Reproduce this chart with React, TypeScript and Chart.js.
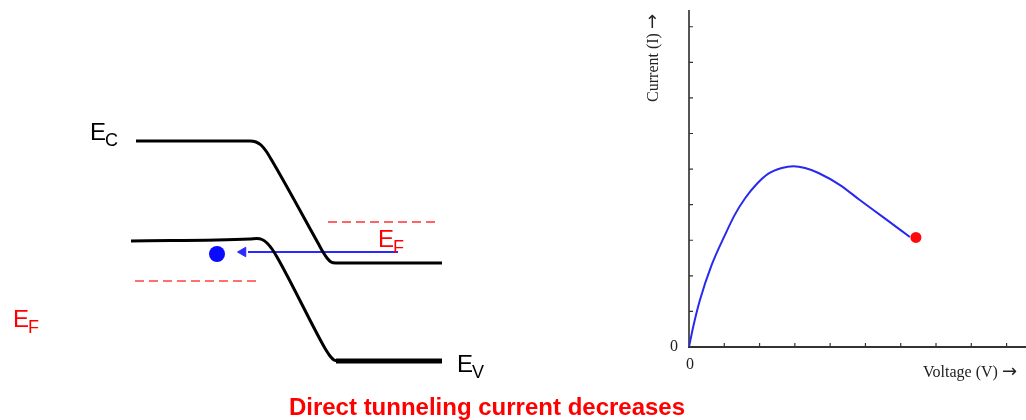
import React, { useEffect, useRef } from "react";
import { Chart, registerables } from "chart.js";
Chart.register(...registerables);

// ---------- Band diagram (position in nm, energy in eV) ----------
const ecX = [3.6, 15.0, 15.6, 16.1, 16.6, 17.1, 21.8, 22.3, 22.7, 23.1, 23.6, 34.2];
const ecY = [2.2, 2.2, 2.19, 2.16, 2.1, 2.02, 1.18, 1.09, 1.03, 0.99, 0.98, 0.98];
const evX = [3.1, 15.0, 15.7, 16.2, 16.7, 17.2, 17.7, 22.2, 22.6, 23.0, 23.4, 23.8];
const evY = [1.2, 1.22, 1.225, 1.215, 1.18, 1.12, 1.04, 0.18, 0.11, 0.05, 0.01, 0.0];
const evFlatX = [23.6, 34.2];
const evFlatY = [0.0, 0.0];
const efRightX = [22.8, 33.8];
const efRightY = [1.39, 1.39];
const efLeftX = [3.5, 16.0];
const efLeftY = [0.8, 0.8];
const tunnelX = [29.8, 14.8];
const tunnelY = [1.09, 1.09];
const arrowHeadX = [14.3];
const arrowHeadY = [1.09];
const electronX = [11.7];
const electronY = [1.07];

// label anchors (position nm, energy eV)
const bandLabels = [
  { main: "E", sub: "C", x: -1.0, y: 2.21, color: "#000000" },
  { main: "E", sub: "F", x: 27.8, y: 1.14, color: "#ff0000" },
  { main: "E", sub: "F", x: -8.7, y: 0.34, color: "#ff0000" },
  { main: "E", sub: "V", x: 35.7, y: -0.11, color: "#000000" },
];
const captionText = "Direct tunneling current decreases";

// ---------- I-V curve ----------
const voltage = [0, 0.12, 0.31, 0.64, 1.02, 1.3, 1.59, 1.92, 2.25, 2.63, 2.96, 3.29, 3.67, 4.28, 4.84, 5.5, 6.26];
const current = [0, 0.57, 1.32, 2.3, 3.15, 3.72, 4.18, 4.58, 4.87, 5.03, 5.08, 5.03, 4.89, 4.55, 4.13, 3.65, 3.09];
const markerV = [6.43];
const markerI = [3.08];
const tickValues = [1, 2, 3, 4, 5, 6, 7, 8, 9];
const xTitle = "Voltage (V) ";
const yTitle = "Current (I) ";
const arrowGlyph = "\u2192";

const pts = (xs: number[], ys: number[]) => xs.map((x, i) => ({ x, y: ys[i] }));

const SERIF = "16px 'Liberation Serif', 'Times New Roman', serif";
const ARROW = "18px 'DejaVu Sans', sans-serif";

function drawTitle(ctx: CanvasRenderingContext2D, text: string, endX: number, baseY: number) {
  ctx.font = SERIF;
  const a = ctx.measureText(text).width;
  ctx.font = ARROW;
  const b = ctx.measureText(arrowGlyph).width;
  const start = endX - a - b;
  ctx.textAlign = "left";
  ctx.textBaseline = "alphabetic";
  ctx.font = SERIF;
  ctx.fillText(text, start, baseY);
  ctx.font = ARROW;
  ctx.fillText(arrowGlyph, start + a, baseY);
}

export default function App() {
  const leftRef = useRef<HTMLCanvasElement>(null);
  const rightRef = useRef<HTMLCanvasElement>(null);

  useEffect(() => {
    const labelPlugin = {
      id: "bandLabels",
      afterDraw(chart: any) {
        const { ctx, scales } = chart;
        ctx.save();
        ctx.textBaseline = "alphabetic";
        ctx.textAlign = "left";
        for (const l of bandLabels) {
          const px = scales.x.getPixelForValue(l.x);
          const py = scales.y.getPixelForValue(l.y);
          ctx.fillStyle = l.color;
          ctx.font = "24px 'Liberation Sans', Arial, sans-serif";
          ctx.fillText(l.main, px, py);
          const w = ctx.measureText(l.main).width;
          ctx.font = "18px 'Liberation Sans', Arial, sans-serif";
          ctx.fillText(l.sub, px + w - 1, py + 6);
        }
        ctx.fillStyle = "#ff0000";
        ctx.font = "bold 24px 'Liberation Sans', Arial, sans-serif";
        ctx.textAlign = "center";
        ctx.fillText(captionText, 487, 415);
        ctx.restore();
      },
    };

    const left = new Chart(leftRef.current!, {
      type: "scatter",
      data: {
        datasets: [
          { data: pts(ecX, ecY), showLine: true, borderColor: "#000", borderWidth: 3, pointRadius: 0, cubicInterpolationMode: "monotone" },
          { data: pts(evX, evY), showLine: true, borderColor: "#000", borderWidth: 3, pointRadius: 0, cubicInterpolationMode: "monotone" },
          { data: pts(evFlatX, evFlatY), showLine: true, borderColor: "#000", borderWidth: 5, pointRadius: 0, borderCapStyle: "butt" },
          { data: pts(efRightX, efRightY), showLine: true, borderColor: "#ff3030", borderWidth: 1.6, borderDash: [9, 5], pointRadius: 0 },
          { data: pts(efLeftX, efLeftY), showLine: true, borderColor: "#ff4040", borderWidth: 1.6, borderDash: [9, 5], pointRadius: 0 },
          { data: pts(tunnelX, tunnelY), showLine: true, borderColor: "#2a2aff", borderWidth: 2, pointRadius: 0 },
          { data: pts(arrowHeadX, arrowHeadY), pointStyle: "triangle", rotation: -90, pointRadius: 5.5, backgroundColor: "#2a2aff", borderColor: "#2a2aff", borderWidth: 1 },
          { data: pts(electronX, electronY), pointRadius: 8, backgroundColor: "#0a0aff", borderColor: "#0a0aff", borderWidth: 0 },
        ],
      } as any,
      options: {
        animation: false,
        responsive: false,
        devicePixelRatio: 1,
        layout: { padding: 0, autoPadding: false },
        plugins: { legend: { display: false }, tooltip: { enabled: false }, title: { display: false } },
        scales: {
          x: { type: "linear", display: false, min: -10, max: 92.6 },
          y: { type: "linear", display: false, min: -0.59, max: 3.61 },
        },
      } as any,
      plugins: [labelPlugin],
    });

    const axesPlugin = {
      id: "ivAxes",
      beforeDatasetsDraw(chart: any) {
        const { ctx, chartArea, scales } = chart;
        const x0 = scales.x.getPixelForValue(0);
        const y0 = scales.y.getPixelForValue(0);
        ctx.save();
        ctx.strokeStyle = "#555";
        ctx.lineWidth = 2;
        ctx.beginPath();
        ctx.moveTo(x0, chartArea.top);
        ctx.lineTo(x0, y0);
        ctx.stroke();
        ctx.strokeStyle = "#333";
        ctx.beginPath();
        ctx.moveTo(x0 - 1, y0);
        ctx.lineTo(chartArea.right, y0);
        ctx.stroke();
        ctx.lineWidth = 1.2;
        ctx.beginPath();
        for (const v of tickValues) {
          const px = scales.x.getPixelForValue(v);
          ctx.moveTo(px, y0);
          ctx.lineTo(px, y0 - 4);
          const py = scales.y.getPixelForValue(v);
          ctx.moveTo(x0, py);
          ctx.lineTo(x0 + 4, py);
        }
        ctx.stroke();
        ctx.fillStyle = "#222";
        ctx.font = SERIF;
        ctx.textAlign = "center";
        ctx.textBaseline = "middle";
        ctx.fillText("0", x0 - 15, y0);
        ctx.fillText("0", x0 + 1, y0 + 18);
        drawTitle(ctx, xTitle, chartArea.right - 9, y0 + 30);
        ctx.translate(x0 - 31, chartArea.top);
        ctx.rotate(-Math.PI / 2);
        drawTitle(ctx, yTitle, -4, 0);
        ctx.restore();
      },
    };

    const right = new Chart(rightRef.current!, {
      type: "scatter",
      data: {
        datasets: [
          { data: pts(voltage, current), showLine: true, borderColor: "#2828f0", borderWidth: 2, pointRadius: 0, cubicInterpolationMode: "monotone" },
          { data: pts(markerV, markerI), pointRadius: 5.5, backgroundColor: "#ff0a0a", borderColor: "#ff0a0a", borderWidth: 0 },
        ],
      } as any,
      options: {
        animation: false,
        responsive: false,
        devicePixelRatio: 1,
        layout: { padding: { left: 69, top: 10, right: 0, bottom: 73 }, autoPadding: false },
        plugins: { legend: { display: false }, tooltip: { enabled: false }, title: { display: false } },
        scales: {
          x: { type: "linear", display: false, min: 0, max: 9.55 },
          y: { type: "linear", display: false, min: 0, max: 9.47 },
        },
      } as any,
      plugins: [axesPlugin],
    });

    return () => {
      left.destroy();
      right.destroy();
    };
  }, []);

  return (
    <div style={{ position: "absolute", left: 0, top: 0, width: 1026, height: 420, background: "#fff" }}>
      <canvas ref={leftRef} width={1026} height={420} style={{ position: "absolute", left: 0, top: 0, width: 1026, height: 420 }} />
      <canvas ref={rightRef} width={406} height={420} style={{ position: "absolute", left: 620, top: 0, width: 406, height: 420 }} />
    </div>
  );
}
